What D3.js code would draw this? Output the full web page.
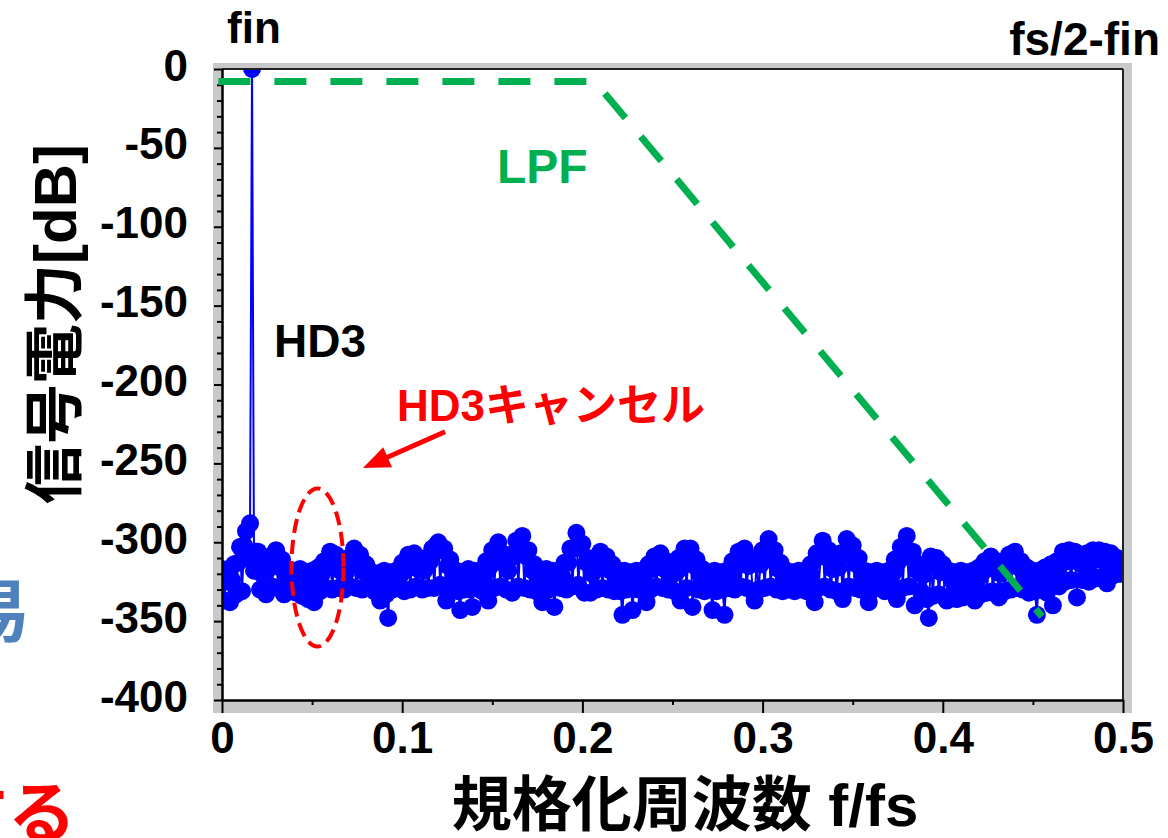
<!DOCTYPE html>
<html>
<head>
<meta charset="utf-8">
<script src="https://cdn.jsdelivr.net/npm/d3@7"></script>
<style>
body { margin: 0; background: #fff; }
text { font-family: "Liberation Sans", Arial, "Noto Sans CJK JP", sans-serif; font-weight: bold; }
</style>
</head>
<body>
<div id="chart"></div>
<script>
// tick labels
const xTicks = [0, 0.1, 0.2, 0.3, 0.4, 0.5];
const xMinorTicks = [0.05, 0.15, 0.25, 0.35, 0.45];
const yTicks = [0, -50, -100, -150, -200, -250, -300, -350, -400];

// spectrum: FFT bins 0..fs/2 (dB)
const binCount = 450;
const spectrumDb = [
    -317,-337,-325, -318,-338,-324, -314,-333,-313, -303,-331,-302, -293,-310,-288,
    0,-318,-306, -306,-330,-320, -314,-333,-317, -309,-328,-312, -305,-329,-316,
    -311,-333,-322, -318,-330,-325, -318,-332,-324, -317,-334,-325, -319,-336,-326,
    -318,-338,-325, -316,-331,-320, -312,-329,-315, -306,-330,-313, -308,-329,-318,
    -313,-330,-319, -310,-328,-313, -304,-329,-314, -308,-330,-319, -314,-328,-324,
    -319,-331,-325, -320,-337,-324, -318,-333,-348, -319,-330,-325, -318,-329,-321,
    -313,-331,-317, -308,-330,-312, -307,-328,-317, -312,-330,-318, -310,-329,-312,
    -304,-329,-302, -300,-327,-305, -304,-337,-315, -311,-329,-322, -318,-331,-343,
    -319,-330,-326, -317,-330,-341, -318,-329,-325, -318,-331,-321, -312,-337,-315,
    -305,-329,-305, -300,-328,-313, -308,-330,-318, -308,-332,-309, -299,-328,-300,
    -296,-329,-309, -305,-330,-318, -314,-331,-325, -318,-338,-325, -317,-330,-324,
    -318,-341,-325, -318,-329,-322, -313,-330,-313, -304,-328,-304, -294,-327,-302,
    -301,-332,-313, -310,-332,-320, -312,-330,-315, -306,-329,-313, -309,-330,-318,
    -314,-331,-323, -318,-331,-346, -318,-330,-325, -319,-343,-324, -318,-330,-325,
    -318,-329,-338, -314,-330,-317, -309,-328,-312, -307,-329,-317, -312,-330,-322,
    -317,-331,-319, -310,-337,-313, -304,-329,-308, -304,-341,-315, -311,-330,-321,
    -317,-331,-325, -319,-330,-343, -318,-331,-325, -319,-330,-346, -318,-329,-321,
    -312,-330,-315, -306,-328,-309, -304,-329,-315, -310,-331,-337, -312,-330,-314,
    -305,-329,-306, -298,-328,-310, -305,-330,-317, -313,-331,-324, -318,-330,-325,
    -319,-331,-324, -318,-330,-325, -318,-331,-323, -314,-330,-338, -307,-329,-309,
    -299,-328,-309, -305,-330,-317, -312,-331,-316, -307,-336,-308, -298,-328,-305,
    -302,-329,-314, -310,-330,-322, -318,-331,-338, -319,-330,-325, -318,-329,-324,
    -319,-331,-325, -318,-330,-320, -311,-336,-312, -303,-329,-303, -296,-328,-309,
    -306,-340,-318, -314,-331,-321, -314,-336,-348, -309,-334,-314, -310,-333,-319,
    -314,-335,-337, -318,-334,-325, -319,-336,-326, -318,-335,-325, -319,-334,-326,
    -318,-337,-324, -316,-333,-319, -312,-332,-315, -309,-331,-317, -312,-335,-320,
    -313,-331,-315, -308,-330,-311, -306,-329,-316, -312,-330,-321, -316,-332,-324,
    -318,-331,-346, -318,-330,-324, -316,-332,-322, -314,-340,-320, -312,-328,-314,
    -306,-325,-312, -305,-324,-311, -306,-335,-313, -309,-324,-316, -307,-325,-312,
    -305,-323,-311, -305,-322,-311, -306,-326,-313, -307,-321,-313, -310,-320,-315,
    -311
];

// LPF corner points
const lpfFreq = [-0.002, 0.207, 0.455];
const lpfDb = [-8, -8, -347];

// HD3 cancel marker and arrow (data units)
const hd3Freq = 0.053, hd3Db = -316;
const arrowFreq = [0.1238, 0.0782];
const arrowDb = [-230, -253];

// margin convention
const svgWidth = 1168,
    svgHeight = 838,
    margin = { top: 69, right: 45, bottom: 138, left: 222 },
    width = svgWidth - margin.left - margin.right,
    height = svgHeight - margin.top - margin.bottom;

let svg = d3.select("#chart").append("svg")
    .attr("width", svgWidth)
    .attr("height", svgHeight);

// gray frame behind the axes
svg.append("rect")
    .attr("x", margin.left - 9).attr("y", margin.top - 6)
    .attr("width", width + 18).attr("height", height + 19)
    .attr("fill", "#c9c9c9");
svg.append("rect")
    .attr("x", margin.left).attr("y", margin.top)
    .attr("width", width).attr("height", height)
    .attr("fill", "#fff");

let g = svg.append("g")
    .attr("transform", `translate(${margin.left},${margin.top})`);

let x = d3.scaleLinear().domain([0, 0.5]).range([0, width]);
let y = d3.scaleLinear().domain([-400, 0]).range([height, 0]);

g.append("clipPath").attr("id", "plotClip")
    .append("rect").attr("width", width).attr("height", height);

let spectrum = spectrumDb.map((v, i) => ({ f: i / (2 * binCount), db: v }));

let plot = g.append("g").attr("clip-path", "url(#plotClip)");
plot.append("path")
    .datum(spectrum)
    .attr("fill", "none")
    .attr("stroke", "#0000ff")
    .attr("stroke-width", 2)
    .attr("d", d3.line().x(d => x(d.f)).y(d => y(d.db)));
plot.selectAll("circle.pt")
    .data(spectrum)
    .join("circle")
    .attr("class", "pt")
    .attr("cx", d => x(d.f))
    .attr("cy", d => y(d.db))
    .attr("r", 9)
    .style("fill", "#0000ff");

// top / right frame lines
g.append("line").attr("x1", 0).attr("x2", width).attr("y1", 0).attr("y2", 0)
    .attr("stroke", "#222").attr("stroke-width", 2);
g.append("line").attr("x1", width).attr("x2", width).attr("y1", 0).attr("y2", height)
    .attr("stroke", "#222").attr("stroke-width", 2);

// axes
let yMinor = d3.range(-390, 0, 10).filter(d => d % 50 !== 0);
g.append("g").attr("class", "axis")
    .call(d3.axisLeft(y).tickValues(yMinor).tickSize(5).tickSizeOuter(0).tickFormat(""));
let yAxis = g.append("g").attr("class", "axis")
    .call(d3.axisLeft(y).tickValues(yTicks).tickSize(8).tickSizeOuter(0)
        .tickPadding(26).tickFormat(d => String(d)));
yAxis.selectAll("text").attr("dy", "0.25em");

g.append("g").attr("class", "axis")
    .attr("transform", `translate(0,${height})`)
    .call(d3.axisBottom(x).tickValues(xMinorTicks).tickSize(5).tickSizeOuter(0).tickFormat(""));
let xAxis = g.append("g").attr("class", "axis")
    .attr("transform", `translate(0,${height})`)
    .call(d3.axisBottom(x).tickValues(xTicks).tickSize(13).tickSizeOuter(0)
        .tickPadding(9).tickFormat(d => String(d)));

svg.selectAll(".axis path").attr("stroke", "#000").attr("stroke-width", 2);
svg.selectAll(".axis line").attr("stroke", "#000").attr("stroke-width", 2);
svg.selectAll(".axis text")
    .attr("font-size", 44)
    .attr("fill", "#000")
    .style("font-family", "'Liberation Sans', Arial, sans-serif")
    .style("font-weight", "bold");

// LPF dashed line
g.append("path")
    .datum(lpfFreq.map((f, i) => [f, lpfDb[i]]))
    .attr("fill", "none")
    .attr("stroke", "#00b050")
    .attr("stroke-width", 7)
    .attr("stroke-dasharray", "32 24")
    .attr("d", d3.line().x(d => x(d[0])).y(d => y(d[1])));

// HD3 cancel ellipse
g.append("ellipse")
    .attr("cx", x(hd3Freq)).attr("cy", y(hd3Db))
    .attr("rx", 26).attr("ry", 79)
    .attr("fill", "none")
    .attr("stroke", "#ff0000")
    .attr("stroke-width", 4)
    .attr("stroke-dasharray", "14 7");

// arrow
let ax0 = x(arrowFreq[0]), ay0 = y(arrowDb[0]),
    ax1 = x(arrowFreq[1]), ay1 = y(arrowDb[1]);
let ang = Math.atan2(ay1 - ay0, ax1 - ax0),
    headLen = 27, headHalf = 11;
let bx = ax1 - headLen * Math.cos(ang), by = ay1 - headLen * Math.sin(ang);
g.append("line")
    .attr("x1", ax0).attr("y1", ay0)
    .attr("x2", bx + 4 * Math.cos(ang)).attr("y2", by + 4 * Math.sin(ang))
    .attr("stroke", "#ff0000").attr("stroke-width", 5);
g.append("polygon")
    .attr("points", [
        [ax1, ay1],
        [bx - headHalf * Math.sin(ang), by + headHalf * Math.cos(ang)],
        [bx + headHalf * Math.sin(ang), by - headHalf * Math.cos(ang)]
    ].map(p => p.join(",")).join(" "))
    .attr("fill", "#ff0000");

// labels
function label(txt, px, py, size, color, anchor) {
    return svg.append("text")
        .attr("x", px).attr("y", py)
        .attr("font-size", size)
        .attr("fill", color)
        .attr("text-anchor", anchor || "start")
        .text(txt);
}
label("fin", 227, 43, 44, "#000");
label("fs/2-fin", 1160, 55, 46, "#000", "end");
label("LPF", 497, 183, 48, "#00b050");
label("HD3", 274, 357, 46, "#000");
label("HD3キャンセル", 397, 421, 44, "#ff0000");
label("規格化周波数 f/fs", 685, 826, 60, "#000", "middle");
label("易", 30, 636, 68, "#4f81bd", "end");
label("する", 76, 838, 68, "#ff0000", "end");

svg.append("text")
    .attr("transform", "translate(76,324) rotate(-90)")
    .attr("text-anchor", "middle")
    .attr("font-size", 60)
    .attr("fill", "#000")
    .text("信号電力[dB]");
</script>
</body>
</html>
